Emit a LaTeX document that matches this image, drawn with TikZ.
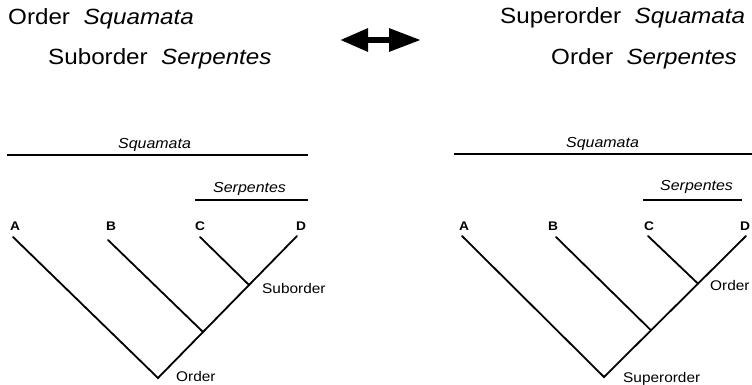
\documentclass[tikz,border=0pt]{standalone}
\usepackage{fontspec}
\setmainfont{Liberation Sans}[FakeStretch=1.1]
\usetikzlibrary{arrows.meta,calc}
\tikzset{
  toptext/.style={inner sep=0pt,anchor=base west,font=\fontsize{22}{26}\selectfont},
  smalltext/.style={inner sep=0pt,anchor=base west,font=\fontsize{14}{16}\selectfont},
  cladetext/.style={inner sep=0pt,anchor=base west,font=\fontsize{14.5}{16}\selectfont\itshape},
  tiplabel/.style={inner sep=0pt,anchor=base,font=\fontsize{12.5}{14}\selectfont\bfseries},
  branch/.style={line width=1.8pt,line cap=round,line join=miter},
  cladeline/.style={line width=1.2pt},
  bigarrow/.style={line width=6pt,{Triangle[length=28pt,width=22pt]}-{Triangle[length=32pt,width=22pt]}}
}
\begin{document}
\begin{tikzpicture}[x=1pt,y=-1pt]
\useasboundingbox (0,0) rectangle (752,385);
% top texts
\node[toptext] (t1) at (8,25) {Order\ \ \textit{Squamata}};
\node[toptext] (t2) at (48,65) {Suborder\ \ \textit{Serpentes}};
\node[toptext] (t3) at (500,24) {Superorder\ \ \textit{Squamata}};
\node[toptext] (t4) at (551,65) {Order\ \ \textit{Serpentes}};
\coordinate (arrL) at (340,40);
\coordinate (arrR) at (421,40);
\draw[bigarrow] (arrL) -- (arrR);

% ---------- left tree ----------
\node[cladetext] (lsq) at (118,148) {Squamata};
\coordinate (lsq1) at (7,155); \coordinate (lsq2) at (308,155);
\draw[cladeline] (lsq1) -- (lsq2);
\node[cladetext] (lse) at (213,192) {Serpentes};
\coordinate (lse1) at (195,200); \coordinate (lse2) at (308,200);
\draw[cladeline] (lse1) -- (lse2);
\node[tiplabel] (lA) at (15,230) {A};
\node[tiplabel] (lB) at (111,230) {B};
\node[tiplabel] (lC) at (200,230) {C};
\node[tiplabel] (lD) at (301,230) {D};
\coordinate (ltA) at (13,237);
\coordinate (ltB) at (108,240);
\coordinate (ltC) at (200,237);
\coordinate (ltD) at (297,236);
\coordinate (lroot) at (158,378);
\coordinate (ljB) at ($(lroot)!0.324!(ltD)$);
\coordinate (ljC) at ($(lroot)!0.655!(ltD)$);
\draw[branch] (ltA) -- (lroot) -- (ltD);
\draw[branch] (ltB) -- (ljB);
\draw[branch] (ltC) -- (ljC);
\node[smalltext] (lsub) at (262,293) {Suborder};
\node[smalltext] (lord) at (176,381) {Order};

% ---------- right tree ----------
\node[cladetext] (rsq) at (566,147) {Squamata};
\coordinate (rsq1) at (454,154); \coordinate (rsq2) at (752,154);
\draw[cladeline] (rsq1) -- (rsq2);
\node[cladetext] (rse) at (660,190) {Serpentes};
\coordinate (rse1) at (643,200); \coordinate (rse2) at (742,200);
\draw[cladeline] (rse1) -- (rse2);
\node[tiplabel] (rA) at (464,230) {A};
\node[tiplabel] (rB) at (553,230) {B};
\node[tiplabel] (rC) at (649,230) {C};
\node[tiplabel] (rD) at (745,230) {D};
\coordinate (rtA) at (462,236);
\coordinate (rtB) at (556,237);
\coordinate (rtC) at (648,236);
\coordinate (rtD) at (746,236);
\coordinate (rroot) at (604,377);
\coordinate (rjB) at ($(rroot)!0.331!(rtD)$);
\coordinate (rjC) at ($(rroot)!0.662!(rtD)$);
\draw[branch] (rtA) -- (rroot) -- (rtD);
\draw[branch] (rtB) -- (rjB);
\draw[branch] (rtC) -- (rjC);
\node[smalltext] (rord) at (710,290) {Order};
\node[smalltext] (rsup) at (623,382) {Superorder};
\end{tikzpicture}
\end{document}
